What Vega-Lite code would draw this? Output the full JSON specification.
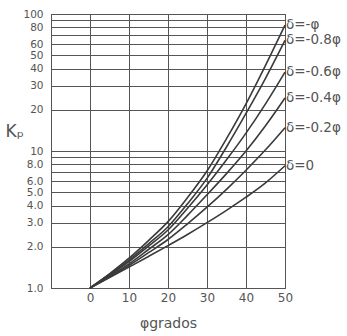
{
  "$schema": "https://vega.github.io/schema/vega-lite/v6.json",
  "autosize": {"type": "none"},
  "width": 234,
  "height": 274,
  "padding": {"left": 51, "top": 14, "right": 62, "bottom": 48},
  "background": "white",
  "config": {
    "font": "DejaVu Sans",
    "view": {"stroke": "#555", "strokeWidth": 1},
    "axis": {"labelColor": "#555", "titleColor": "#555", "gridColor": "#555", "gridOpacity": 1, "gridWidth": 1, "domainColor": "#555", "domainWidth": 1, "ticks": false, "titleFontWeight": "normal", "labelOverlap": false}
  },
  "data": {
    "values": [
      {"phi": 0, "Kp": 1, "d": "δ=0"}, {"phi": 5, "Kp": 1.19, "d": "δ=0"}, {"phi": 10, "Kp": 1.42, "d": "δ=0"}, {"phi": 15, "Kp": 1.70, "d": "δ=0"}, {"phi": 20, "Kp": 2.04, "d": "δ=0"}, {"phi": 25, "Kp": 2.46, "d": "δ=0"}, {"phi": 30, "Kp": 3.0, "d": "δ=0"}, {"phi": 35, "Kp": 3.69, "d": "δ=0"}, {"phi": 40, "Kp": 4.6, "d": "δ=0"}, {"phi": 45, "Kp": 5.85, "d": "δ=0"}, {"phi": 50, "Kp": 7.8, "d": "δ=0"},
      {"phi": 0, "Kp": 1, "d": "δ=-0.2φ"}, {"phi": 5, "Kp": 1.20, "d": "δ=-0.2φ"}, {"phi": 10, "Kp": 1.46, "d": "δ=-0.2φ"}, {"phi": 15, "Kp": 1.81, "d": "δ=-0.2φ"}, {"phi": 20, "Kp": 2.26, "d": "δ=-0.2φ"}, {"phi": 25, "Kp": 2.94, "d": "δ=-0.2φ"}, {"phi": 30, "Kp": 3.89, "d": "δ=-0.2φ"}, {"phi": 35, "Kp": 5.25, "d": "δ=-0.2φ"}, {"phi": 40, "Kp": 7.24, "d": "δ=-0.2φ"}, {"phi": 45, "Kp": 10.2, "d": "δ=-0.2φ"}, {"phi": 50, "Kp": 14.8, "d": "δ=-0.2φ"},
      {"phi": 0, "Kp": 1, "d": "δ=-0.4φ"}, {"phi": 5, "Kp": 1.22, "d": "δ=-0.4φ"}, {"phi": 10, "Kp": 1.50, "d": "δ=-0.4φ"}, {"phi": 15, "Kp": 1.91, "d": "δ=-0.4φ"}, {"phi": 20, "Kp": 2.45, "d": "δ=-0.4φ"}, {"phi": 25, "Kp": 3.39, "d": "δ=-0.4φ"}, {"phi": 30, "Kp": 4.79, "d": "δ=-0.4φ"}, {"phi": 35, "Kp": 6.84, "d": "δ=-0.4φ"}, {"phi": 40, "Kp": 10.0, "d": "δ=-0.4φ"}, {"phi": 45, "Kp": 15.3, "d": "δ=-0.4φ"}, {"phi": 50, "Kp": 24.4, "d": "δ=-0.4φ"},
      {"phi": 0, "Kp": 1, "d": "δ=-0.6φ"}, {"phi": 5, "Kp": 1.24, "d": "δ=-0.6φ"}, {"phi": 10, "Kp": 1.56, "d": "δ=-0.6φ"}, {"phi": 15, "Kp": 2.02, "d": "δ=-0.6φ"}, {"phi": 20, "Kp": 2.65, "d": "δ=-0.6φ"}, {"phi": 25, "Kp": 3.82, "d": "δ=-0.6φ"}, {"phi": 30, "Kp": 5.65, "d": "δ=-0.6φ"}, {"phi": 35, "Kp": 8.63, "d": "δ=-0.6φ"}, {"phi": 40, "Kp": 13.5, "d": "δ=-0.6φ"}, {"phi": 45, "Kp": 22.1, "d": "δ=-0.6φ"}, {"phi": 50, "Kp": 37.7, "d": "δ=-0.6φ"},
      {"phi": 0, "Kp": 1, "d": "δ=-0.8φ"}, {"phi": 5, "Kp": 1.26, "d": "δ=-0.8φ"}, {"phi": 10, "Kp": 1.60, "d": "δ=-0.8φ"}, {"phi": 15, "Kp": 2.10, "d": "δ=-0.8φ"}, {"phi": 20, "Kp": 2.80, "d": "δ=-0.8φ"}, {"phi": 25, "Kp": 4.12, "d": "δ=-0.8φ"}, {"phi": 30, "Kp": 6.31, "d": "δ=-0.8φ"}, {"phi": 35, "Kp": 10.7, "d": "δ=-0.8φ"}, {"phi": 40, "Kp": 18.8, "d": "δ=-0.8φ"}, {"phi": 45, "Kp": 33.9, "d": "δ=-0.8φ"}, {"phi": 50, "Kp": 64.1, "d": "δ=-0.8φ"},
      {"phi": 0, "Kp": 1, "d": "δ=-φ"}, {"phi": 5, "Kp": 1.27, "d": "δ=-φ"}, {"phi": 10, "Kp": 1.65, "d": "δ=-φ"}, {"phi": 15, "Kp": 2.22, "d": "δ=-φ"}, {"phi": 20, "Kp": 3.05, "d": "δ=-φ"}, {"phi": 25, "Kp": 4.57, "d": "δ=-φ"}, {"phi": 30, "Kp": 7.14, "d": "δ=-φ"}, {"phi": 35, "Kp": 12.3, "d": "δ=-φ"}, {"phi": 40, "Kp": 22.1, "d": "δ=-φ"}, {"phi": 45, "Kp": 42.2, "d": "δ=-φ"}, {"phi": 50, "Kp": 83, "d": "δ=-φ"}
    ]
  },
  "encoding": {
    "x": {
      "field": "phi", "type": "quantitative",
      "scale": {"domain": [-10, 50], "nice": false, "zero": false},
      "axis": {"values": [0, 10, 20, 30, 40, 50], "title": "φgrados", "labelFontSize": 12, "labelPadding": 4, "titleFontSize": 14, "titlePadding": 13, "labelFlush": false}
    },
    "y": {
      "field": "Kp", "type": "quantitative",
      "scale": {"type": "log", "domain": [1, 100], "nice": false},
      "axis": {
        "values": [1, 2, 3, 4, 5, 6, 7, 8, 9, 10, 20, 30, 40, 50, 60, 70, 80, 90, 100],
        "labelExpr": "datum.value == 7 || datum.value == 9 || datum.value == 70 || datum.value == 90 ? '' : (datum.value < 10 ? format(datum.value, '.1f') : format(datum.value, 'd'))",
        "labelFontSize": 10.5, "labelPadding": 8, "labelFlush": false,
        "title": "Kₚ", "titleAngle": 0, "titleFontSize": 17, "titleAlign": "left", "titleBaseline": "middle", "titleX": -46, "titleY": 117
      }
    }
  },
  "layer": [
    {
      "mark": {"type": "line", "color": "#3a3a3a", "strokeWidth": 1.6, "interpolate": "monotone"},
      "encoding": {"detail": {"field": "d"}}
    },
    {
      "transform": [{"filter": "datum.phi == 50"}],
      "mark": {"type": "text", "align": "left", "baseline": "middle", "dx": 1, "fontSize": 13.5, "color": "#555"},
      "encoding": {"text": {"field": "d"}}
    }
  ]
}
